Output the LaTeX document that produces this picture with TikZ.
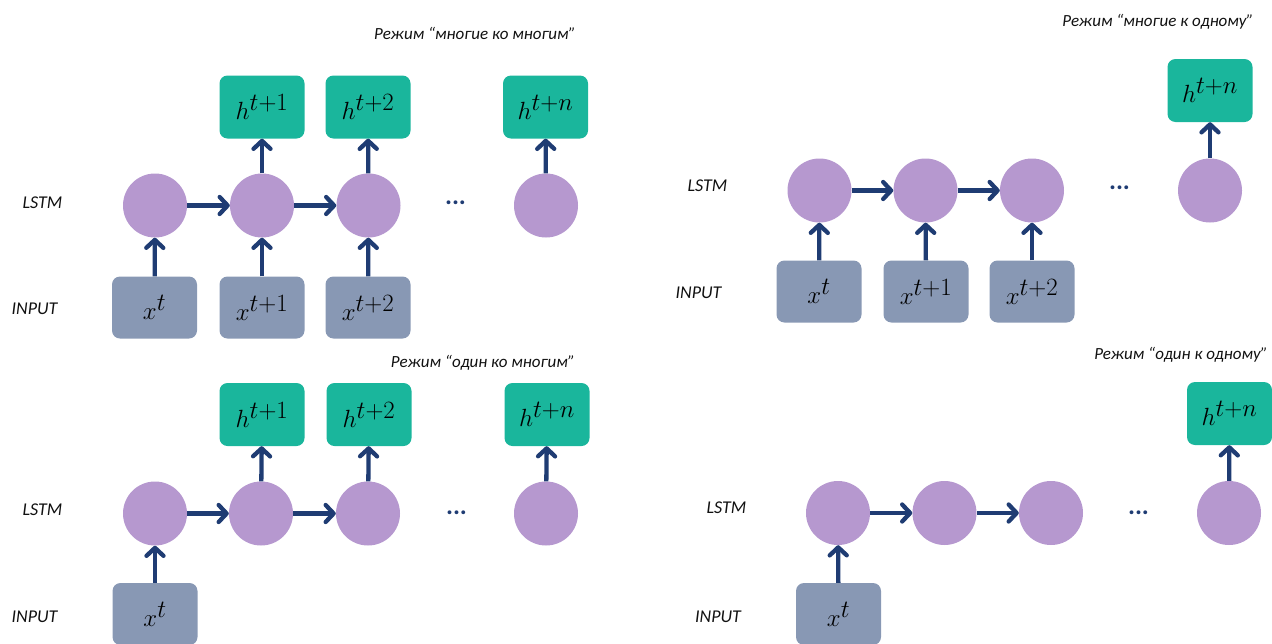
\documentclass[tikz,border=0pt]{standalone}
\usepackage{fontspec}
\setmainfont{Carlito}
\usetikzlibrary{arrows.meta}
\definecolor{cellc}{HTML}{B698CF}
\definecolor{hc}{HTML}{1AB69C}
\definecolor{xc}{HTML}{8898B4}
\definecolor{arrc}{HTML}{1F3C73}
\definecolor{labc}{HTML}{111111}
\tikzset{
  cell/.style={circle, fill=cellc, minimum size=64pt, inner sep=0pt},
  hbox/.style={rectangle, rounded corners=8pt, fill=hc, minimum width=85pt, minimum height=63pt, inner sep=0pt, font=\fontsize{34}{34}\selectfont},
  xbox/.style={rectangle, rounded corners=8pt, fill=xc, minimum width=85pt, minimum height=62pt, inner sep=0pt, font=\fontsize{34}{34}\selectfont},
  lab/.style={font=\fontsize{18}{20}\selectfont\itshape, text=labc, inner sep=0pt},
  ttl/.style={font=\fontsize{17}{20}\selectfont\itshape, text=labc, inner sep=0pt},
  dots/.style={font=\fontsize{26}{26}\selectfont\bfseries\itshape, text=arrc, inner sep=0pt},
  conn/.style={draw=arrc, line width=4.3pt, -{Straight Barb[length=8pt,width=17pt,round]}},
}
\begin{document}
\begin{tikzpicture}[x=1pt,y=-1pt]
\useasboundingbox (0,0) rectangle (1272,643);
% ---------------- top-left: many to many
\node[ttl] (t1) at (475,33) {Режим  “многие ко многим”};
\node[lab] (l1) at (42.5,203) {LSTM};
\node[lab] (i1) at (34.5,309) {INPUT};
\node[cell] (a1) at (155,205.5) {};
\node[cell] (a2) at (262,205.5) {};
\node[cell] (a3) at (368.5,205.5) {};
\node[cell] (a4) at (546,205.5) {};
\node[dots] (ad) at (456,203) {...};
\node[hbox] (ah2) at (262,107) {$h^{t+1}$};
\node[hbox] (ah3) at (368,107) {$h^{t+2}$};
\node[hbox] (ah4) at (545.5,107) {$h^{t+n}$};
\node[xbox] (ax1) at (154.5,307.5) {$x^{t}$};
\node[xbox] (ax2) at (262,307.5) {$x^{t+1}$};
\node[xbox] (ax3) at (368,307.5) {$x^{t+2}$};
\draw[conn] (a1) -- (a2);
\draw[conn] (a2) -- (a3);
\draw[conn] (ax1) -- (a1);
\draw[conn] (ax2) -- (a2);
\draw[conn] (ax3) -- (a3);
\draw[conn] (a2) -- (ah2);
\draw[conn] (a3) -- (ah3);
\draw[conn] (a4) -- (ah4);
% ---------------- top-right: many to one
\node[ttl] (t2) at (1158,22) {Режим  “многие к одному”};
\node[lab] (l2) at (707.5,186) {LSTM};
\node[lab] (i2) at (698.5,293) {INPUT};
\node[cell] (b1) at (819.5,190.5) {};
\node[cell] (b2) at (925.5,190.5) {};
\node[cell] (b3) at (1032,190.5) {};
\node[cell] (b4) at (1210,190.5) {};
\node[dots] (bd) at (1120,188) {...};
\node[hbox] (bh4) at (1210,90.5) {$h^{t+n}$};
\node[xbox] (bx1) at (819,291.5) {$x^{t}$};
\node[xbox] (bx2) at (926,291.5) {$x^{t+1}$};
\node[xbox] (bx3) at (1032,291.5) {$x^{t+2}$};
\draw[conn] (b1) -- (b2);
\draw[conn] (b2) -- (b3);
\draw[conn] (bx1) -- (b1);
\draw[conn] (bx2) -- (b2);
\draw[conn] (bx3) -- (b3);
\draw[conn] (b4) -- (bh4);
% ---------------- bottom-left: one to many
\node[ttl] (t3) at (483,363) {Режим  “один ко многим”};
\node[lab] (l3) at (42.5,510) {LSTM};
\node[lab] (i3) at (34.5,617) {INPUT};
\node[cell] (c1) at (155,513.5) {};
\node[cell] (c2) at (261,513.5) {};
\node[cell] (c3) at (368,513.5) {};
\node[cell] (c4) at (546,513.5) {};
\node[dots] (cd) at (457,513) {...};
\node[hbox] (ch2) at (262,414.5) {$h^{t+1}$};
\node[hbox] (ch3) at (369,414.5) {$h^{t+2}$};
\node[hbox] (ch4) at (547,414.5) {$h^{t+n}$};
\node[xbox] (cx1) at (155,614) {$x^{t}$};
\draw[conn] (c1) -- (c2);
\draw[conn] (c2) -- (c3);
\draw[conn] (cx1) -- (c1);
\draw[conn] (c2) -- (ch2);
\draw[conn] (c3) -- (ch3);
\draw[conn] (c4) -- (ch4);
% ---------------- bottom-right: one to one
\node[ttl] (t4) at (1181,355) {Режим  “один к одному”};
\node[lab] (l4) at (726.5,508) {LSTM};
\node[lab] (i4) at (718,617) {INPUT};
\node[cell] (d1) at (838,513) {};
\node[cell] (d2) at (944.5,513) {};
\node[cell] (d3) at (1051,513) {};
\node[cell] (d4) at (1229,513) {};
\node[dots] (dd) at (1139,513) {...};
\node[hbox] (dh4) at (1229.5,413.5) {$h^{t+n}$};
\node[xbox] (dx1) at (838.5,614) {$x^{t}$};
\draw[conn] (d1) -- (d2);
\draw[conn] (d2) -- (d3);
\draw[conn] (dx1) -- (d1);
\draw[conn] (d4) -- (dh4);
\end{tikzpicture}
\end{document}
